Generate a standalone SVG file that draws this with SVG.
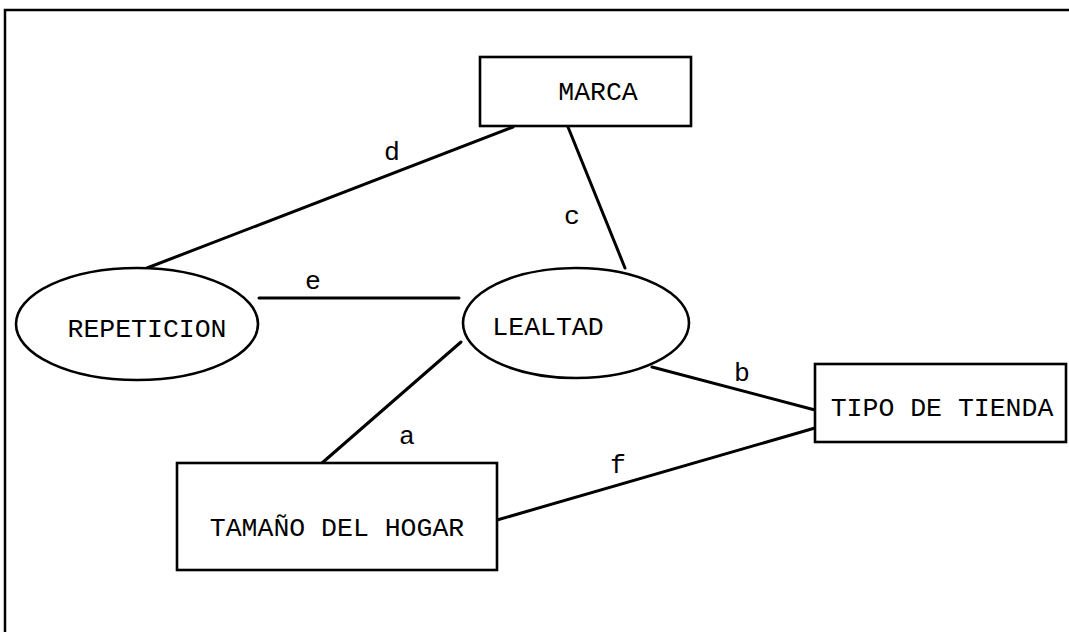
<svg xmlns="http://www.w3.org/2000/svg" width="1069" height="632" viewBox="0 0 1069 632">
<style>
.shape{fill:#fff;stroke:#000;stroke-width:2.6}
.t{font-family:"Liberation Mono","Courier New",monospace;font-size:26.5px;fill:#000}
.c line{stroke:#000;stroke-width:3;stroke-linecap:round}
.frame{fill:none;stroke:#000;stroke-width:2.5}
</style>
<rect width="1069" height="632" fill="#fff"/>
<path class="frame" d="M5,632 V10 H1069"/>
<g class="c" id="connectors">
<line x1="513" y1="127" x2="147" y2="268"/>
<line x1="568" y1="127" x2="625" y2="268"/>
<line x1="259" y1="298" x2="459" y2="298"/>
<line x1="652" y1="367" x2="815" y2="410"/>
<line x1="461" y1="342" x2="322" y2="463"/>
<line x1="497" y1="520" x2="815" y2="428"/>
<text class="t" x="392" y="160" text-anchor="middle">d</text>
<text class="t" x="572" y="224" text-anchor="middle">c</text>
<text class="t" x="313" y="289" text-anchor="middle">e</text>
<text class="t" x="742" y="381" text-anchor="middle">b</text>
<text class="t" x="407" y="444" text-anchor="middle">a</text>
<text class="t" x="618" y="473" text-anchor="middle">f</text>
</g>
<g id="marca">
<rect class="shape" x="480" y="57" width="211" height="69"/>
<text class="t" x="598" y="100" text-anchor="middle">MARCA</text>
</g>
<g id="repeticion">
<ellipse class="shape" cx="137" cy="324" rx="121" ry="56"/>
<text class="t" x="147" y="337" text-anchor="middle">REPETICION</text>
</g>
<g id="lealtad">
<ellipse class="shape" cx="576" cy="323" rx="113" ry="55"/>
<text class="t" x="548" y="335" text-anchor="middle">LEALTAD</text>
</g>
<g id="tipo">
<rect class="shape" x="815" y="364" width="251" height="78"/>
<text class="t" x="942" y="416" text-anchor="middle">TIPO DE TIENDA</text>
</g>
<g id="tamano">
<rect class="shape" x="177" y="463" width="320" height="107"/>
<text class="t" x="337" y="536" text-anchor="middle">TAMAÑO DEL HOGAR</text>
</g>
</svg>
